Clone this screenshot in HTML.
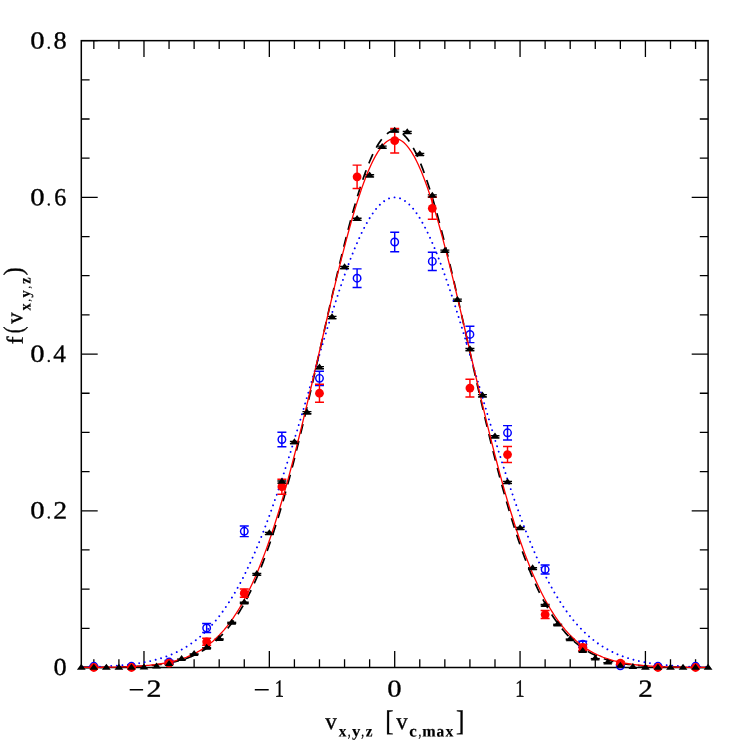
<!DOCTYPE html><html><head><meta charset="utf-8"><style>html,body{margin:0;padding:0;background:#fff}svg{display:block}text{font-family:"Liberation Sans",sans-serif;fill:#000}.se{font-family:"Liberation Serif",serif}</style></head><body><div style="will-change:transform;width:747px;height:747px">
<svg width="747" height="747" viewBox="0 0 747 747">
<rect width="747" height="747" fill="#fff"/>
<rect x="81.3" y="40.65" width="626.80" height="626.85" fill="none" stroke="#000" stroke-width="1.5"/>
<path d="M93.84 40.65v8.3M93.84 667.5v-8.3M118.91 40.65v8.3M118.91 667.5v-8.3M143.98 40.65v16.4M143.98 667.5v-16.4M169.05 40.65v8.3M169.05 667.5v-8.3M194.12 40.65v8.3M194.12 667.5v-8.3M219.20 40.65v8.3M219.20 667.5v-8.3M244.27 40.65v8.3M244.27 667.5v-8.3M269.34 40.65v16.4M269.34 667.5v-16.4M294.41 40.65v8.3M294.41 667.5v-8.3M319.48 40.65v8.3M319.48 667.5v-8.3M344.56 40.65v8.3M344.56 667.5v-8.3M369.63 40.65v8.3M369.63 667.5v-8.3M394.70 40.65v16.4M394.70 667.5v-16.4M419.77 40.65v8.3M419.77 667.5v-8.3M444.84 40.65v8.3M444.84 667.5v-8.3M469.92 40.65v8.3M469.92 667.5v-8.3M494.99 40.65v8.3M494.99 667.5v-8.3M520.06 40.65v16.4M520.06 667.5v-16.4M545.13 40.65v8.3M545.13 667.5v-8.3M570.20 40.65v8.3M570.20 667.5v-8.3M595.28 40.65v8.3M595.28 667.5v-8.3M620.35 40.65v8.3M620.35 667.5v-8.3M645.42 40.65v16.4M645.42 667.5v-16.4M670.49 40.65v8.3M670.49 667.5v-8.3M695.56 40.65v8.3M695.56 667.5v-8.3M81.3 667.50h16.4M708.1 667.50h-16.4M81.3 628.32h8.3M708.1 628.32h-8.3M81.3 589.14h8.3M708.1 589.14h-8.3M81.3 549.97h8.3M708.1 549.97h-8.3M81.3 510.79h16.4M708.1 510.79h-16.4M81.3 471.61h8.3M708.1 471.61h-8.3M81.3 432.43h8.3M708.1 432.43h-8.3M81.3 393.25h8.3M708.1 393.25h-8.3M81.3 354.07h16.4M708.1 354.07h-16.4M81.3 314.90h8.3M708.1 314.90h-8.3M81.3 275.72h8.3M708.1 275.72h-8.3M81.3 236.54h8.3M708.1 236.54h-8.3M81.3 197.36h16.4M708.1 197.36h-16.4M81.3 158.18h8.3M708.1 158.18h-8.3M81.3 119.01h8.3M708.1 119.01h-8.3M81.3 79.83h8.3M708.1 79.83h-8.3M81.3 40.65h16.4M708.1 40.65h-16.4" stroke="#000" stroke-width="1.3" fill="none"/>
<path d="M164.55 663.33h9v1.61h-9z" fill="#000"/>
<path d="M177.09 658.38h9v1.78h-9z" fill="#000"/>
<path d="M189.62 653.22h9v1.91h-9z" fill="#000"/>
<path d="M202.16 647.05h9v2.04h-9z" fill="#000"/>
<path d="M214.70 638.20h9v2.19h-9z" fill="#000"/>
<path d="M227.23 621.63h9v2.42h-9z" fill="#000"/>
<path d="M239.77 601.45h9v1.3h-9z M239.77 602.80h9v1.3h-9z" fill="#000"/>
<path d="M252.30 572.80h9v1.3h-9z M252.30 574.42h9v1.3h-9z" fill="#000"/>
<path d="M264.84 531.81h9v1.3h-9z M264.84 533.75h9v1.3h-9z" fill="#000"/>
<path d="M277.38 480.33h9v1.3h-9z M277.38 482.43h9v1.3h-9z" fill="#000"/>
<path d="M289.91 440.84h9v1.3h-9z M289.91 442.94h9v1.3h-9z" fill="#000"/>
<path d="M302.45 410.99h9v1.3h-9z M302.45 413.09h9v1.3h-9z" fill="#000"/>
<path d="M314.98 365.93h9v1.3h-9z M314.98 368.03h9v1.3h-9z" fill="#000"/>
<path d="M327.52 315.78h9v1.3h-9z M327.52 317.88h9v1.3h-9z" fill="#000"/>
<path d="M340.06 265.87h9v1.3h-9z M340.06 267.97h9v1.3h-9z" fill="#000"/>
<path d="M352.59 217.60h9v1.3h-9z M352.59 219.70h9v1.3h-9z" fill="#000"/>
<path d="M365.13 174.11h9v1.3h-9z M365.13 176.21h9v1.3h-9z" fill="#000"/>
<path d="M377.66 145.51h9v1.3h-9z M377.66 147.61h9v1.3h-9z" fill="#000"/>
<path d="M390.20 129.22h9v1.3h-9z M390.20 131.32h9v1.3h-9z" fill="#000"/>
<path d="M402.74 130.63h9v1.3h-9z M402.74 132.73h9v1.3h-9z" fill="#000"/>
<path d="M415.27 152.64h9v1.3h-9z M415.27 154.74h9v1.3h-9z" fill="#000"/>
<path d="M427.81 194.17h9v1.3h-9z M427.81 196.27h9v1.3h-9z" fill="#000"/>
<path d="M440.34 249.41h9v1.3h-9z M440.34 251.51h9v1.3h-9z" fill="#000"/>
<path d="M452.88 298.39h9v1.3h-9z M452.88 300.49h9v1.3h-9z" fill="#000"/>
<path d="M465.42 347.83h9v1.3h-9z M465.42 349.93h9v1.3h-9z" fill="#000"/>
<path d="M477.95 394.06h9v1.3h-9z M477.95 396.16h9v1.3h-9z" fill="#000"/>
<path d="M490.49 435.12h9v1.3h-9z M490.49 437.22h9v1.3h-9z" fill="#000"/>
<path d="M503.02 480.72h9v1.3h-9z M503.02 482.82h9v1.3h-9z" fill="#000"/>
<path d="M515.56 526.78h9v1.3h-9z M515.56 528.76h9v1.3h-9z" fill="#000"/>
<path d="M528.10 567.05h9v1.3h-9z M528.10 568.72h9v1.3h-9z" fill="#000"/>
<path d="M540.63 603.82h9v1.3h-9z M540.63 605.14h9v1.3h-9z" fill="#000"/>
<path d="M553.17 623.60h9v2.40h-9z" fill="#000"/>
<path d="M565.70 638.35h9v2.19h-9z" fill="#000"/>
<path d="M578.24 650.29h9v1.98h-9z" fill="#000"/>
<path d="M590.78 657.91h9v1.79h-9z" fill="#000"/>
<path d="M603.31 661.97h9v1.66h-9z" fill="#000"/>
<path d="M81.30 667.45L82.87 667.44L84.43 667.44L86.00 667.43L87.57 667.42L89.13 667.42L90.70 667.41L92.27 667.40L93.84 667.39L95.40 667.38L96.97 667.37L98.54 667.36L100.10 667.35L101.67 667.33L103.24 667.32L104.81 667.30L106.37 667.28L107.94 667.26L109.51 667.24L111.07 667.22L112.64 667.19L114.21 667.17L115.77 667.14L117.34 667.11L118.91 667.08L120.47 667.04L122.04 667.00L123.61 666.96L125.18 666.92L126.74 666.87L128.31 666.82L129.88 666.76L131.44 666.70L133.01 666.64L134.58 666.57L136.15 666.49L137.71 666.41L139.28 666.33L140.85 666.24L142.41 666.14L143.98 666.04L145.55 665.92L147.11 665.80L148.68 665.68L150.25 665.54L151.81 665.40L153.38 665.24L154.95 665.07L156.52 664.90L158.08 664.71L159.65 664.51L161.22 664.29L162.78 664.07L164.35 663.83L165.92 663.57L167.49 663.30L169.05 663.01L170.62 662.70L172.19 662.37L173.75 662.03L175.32 661.66L176.89 661.27L178.45 660.86L180.02 660.43L181.59 659.97L183.16 659.48L184.72 658.97L186.29 658.42L187.86 657.85L189.42 657.25L190.99 656.61L192.56 655.94L194.12 655.24L195.69 654.49L197.26 653.71L198.82 652.89L200.39 652.03L201.96 651.12L203.53 650.17L205.09 649.17L206.66 648.12L208.23 647.02L209.79 645.87L211.36 644.67L212.93 643.41L214.50 642.09L216.06 640.71L217.63 639.27L219.20 637.77L220.76 636.20L222.33 634.56L223.90 632.85L225.46 631.07L227.03 629.22L228.60 627.30L230.17 625.29L231.73 623.21L233.30 621.04L234.87 618.79L236.43 616.46L238.00 614.03L239.57 611.52L241.13 608.92L242.70 606.22L244.27 603.44L245.84 600.55L247.40 597.57L248.97 594.48L250.54 591.30L252.10 588.02L253.67 584.63L255.24 581.14L256.80 577.54L258.37 573.83L259.94 570.02L261.50 566.10L263.07 562.07L264.64 557.93L266.21 553.68L267.77 549.31L269.34 544.84L270.91 540.26L272.47 535.57L274.04 530.77L275.61 525.86L277.18 520.84L278.74 515.71L280.31 510.47L281.88 505.13L283.44 499.69L285.01 494.14L286.58 488.50L288.14 482.75L289.71 476.91L291.28 470.97L292.85 464.94L294.41 458.82L295.98 452.62L297.55 446.33L299.11 439.97L300.68 433.53L302.25 427.02L303.81 420.44L305.38 413.80L306.95 407.10L308.52 400.35L310.08 393.55L311.65 386.70L313.22 379.82L314.78 372.90L316.35 365.96L317.92 359.00L319.48 352.02L321.05 345.03L322.62 338.04L324.19 331.05L325.75 324.07L327.32 317.11L328.89 310.17L330.45 303.26L332.02 296.40L333.59 289.57L335.15 282.80L336.72 276.09L338.29 269.44L339.86 262.87L341.42 256.38L342.99 249.98L344.56 243.67L346.12 237.47L347.69 231.37L349.26 225.40L350.82 219.55L352.39 213.83L353.96 208.25L355.53 202.81L357.09 197.53L358.66 192.41L360.23 187.45L361.79 182.67L363.36 178.06L364.93 173.64L366.49 169.41L368.06 165.37L369.63 161.53L371.20 157.90L372.76 154.48L374.33 151.28L375.90 148.29L377.46 145.53L379.03 143.00L380.60 140.69L382.16 138.62L383.73 136.79L385.30 135.20L386.87 133.85L388.43 132.74L390.00 131.87L391.57 131.25L393.13 130.88L394.70 130.76L396.27 130.88L397.83 131.25L399.40 131.87L400.97 132.74L402.54 133.85L404.10 135.20L405.67 136.79L407.24 138.62L408.80 140.69L410.37 143.00L411.94 145.53L413.50 148.29L415.07 151.28L416.64 154.48L418.21 157.90L419.77 161.53L421.34 165.37L422.91 169.41L424.47 173.64L426.04 178.06L427.61 182.67L429.17 187.45L430.74 192.41L432.31 197.53L433.88 202.81L435.44 208.25L437.01 213.83L438.58 219.55L440.14 225.40L441.71 231.37L443.28 237.47L444.84 243.67L446.41 249.98L447.98 256.38L449.55 262.87L451.11 269.44L452.68 276.09L454.25 282.80L455.81 289.57L457.38 296.40L458.95 303.26L460.51 310.17L462.08 317.11L463.65 324.07L465.22 331.05L466.78 338.04L468.35 345.03L469.92 352.02L471.48 359.00L473.05 365.96L474.62 372.90L476.18 379.82L477.75 386.70L479.32 393.55L480.89 400.35L482.45 407.10L484.02 413.80L485.59 420.44L487.15 427.02L488.72 433.53L490.29 439.97L491.85 446.33L493.42 452.62L494.99 458.82L496.56 464.94L498.12 470.97L499.69 476.91L501.26 482.75L502.82 488.50L504.39 494.14L505.96 499.69L507.52 505.13L509.09 510.47L510.66 515.71L512.23 520.84L513.79 525.86L515.36 530.77L516.93 535.57L518.49 540.26L520.06 544.84L521.63 549.31L523.19 553.68L524.76 557.93L526.33 562.07L527.90 566.10L529.46 570.02L531.03 573.83L532.60 577.54L534.16 581.14L535.73 584.63L537.30 588.02L538.86 591.30L540.43 594.48L542.00 597.57L543.57 600.55L545.13 603.44L546.70 606.22L548.27 608.92L549.83 611.52L551.40 614.03L552.97 616.46L554.53 618.79L556.10 621.04L557.67 623.21L559.24 625.29L560.80 627.30L562.37 629.22L563.94 631.07L565.50 632.85L567.07 634.56L568.64 636.20L570.20 637.77L571.77 639.27L573.34 640.71L574.90 642.09L576.47 643.41L578.04 644.67L579.61 645.87L581.17 647.02L582.74 648.12L584.31 649.17L585.87 650.17L587.44 651.12L589.01 652.03L590.58 652.89L592.14 653.71L593.71 654.49L595.28 655.24L596.84 655.94L598.41 656.61L599.98 657.25L601.54 657.85L603.11 658.42L604.68 658.97L606.25 659.48L607.81 659.97L609.38 660.43L610.95 660.86L612.51 661.27L614.08 661.66L615.65 662.03L617.21 662.37L618.78 662.70L620.35 663.01L621.92 663.30L623.48 663.57L625.05 663.83L626.62 664.07L628.18 664.29L629.75 664.51L631.32 664.71L632.88 664.90L634.45 665.07L636.02 665.24L637.59 665.40L639.15 665.54L640.72 665.68L642.29 665.80L643.85 665.92L645.42 666.04L646.99 666.14L648.55 666.24L650.12 666.33L651.69 666.41L653.25 666.49L654.82 666.57L656.39 666.64L657.96 666.70L659.52 666.76L661.09 666.82L662.66 666.87L664.22 666.92L665.79 666.96L667.36 667.00L668.93 667.04L670.49 667.08L672.06 667.11L673.63 667.14L675.19 667.17L676.76 667.19L678.33 667.22L679.89 667.24L681.46 667.26L683.03 667.28L684.60 667.30L686.16 667.32L687.73 667.33L689.30 667.35L690.86 667.36L692.43 667.37L694.00 667.38L695.56 667.39L697.13 667.40L698.70 667.41L700.27 667.42L701.83 667.42L703.40 667.43L704.97 667.44L706.53 667.44L708.10 667.45" fill="none" stroke="#000" stroke-width="1.7" stroke-dasharray="10 7.44" stroke-dashoffset="-0.74"/>
<path d="M93.84 666.02V666.62M89.34 666.02H98.34M89.34 666.62H98.34" stroke="#00f" stroke-width="1.45" fill="none"/>
<circle cx="93.84" cy="666.32" r="3.75" fill="none" stroke="#00f" stroke-width="1.45"/>
<path d="M131.44 665.82V666.82M126.94 665.82H135.94M126.94 666.82H135.94" stroke="#00f" stroke-width="1.45" fill="none"/>
<circle cx="131.44" cy="666.32" r="3.75" fill="none" stroke="#00f" stroke-width="1.45"/>
<path d="M169.05 660.59V663.59M164.55 660.59H173.55M164.55 663.59H173.55" stroke="#00f" stroke-width="1.45" fill="none"/>
<circle cx="169.05" cy="662.09" r="3.75" fill="none" stroke="#00f" stroke-width="1.45"/>
<path d="M206.66 623.51V632.51M202.16 623.51H211.16M202.16 632.51H211.16" stroke="#00f" stroke-width="1.45" fill="none"/>
<circle cx="206.66" cy="628.01" r="3.75" fill="none" stroke="#00f" stroke-width="1.45"/>
<path d="M244.27 526.02V536.62M239.77 526.02H248.77M239.77 536.62H248.77" stroke="#00f" stroke-width="1.45" fill="none"/>
<circle cx="244.27" cy="531.32" r="3.75" fill="none" stroke="#00f" stroke-width="1.45"/>
<path d="M281.88 432.18V446.78M277.38 432.18H286.38M277.38 446.78H286.38" stroke="#00f" stroke-width="1.45" fill="none"/>
<circle cx="281.88" cy="439.48" r="3.75" fill="none" stroke="#00f" stroke-width="1.45"/>
<path d="M319.48 371.17V385.57M314.98 371.17H323.98M314.98 385.57H323.98" stroke="#00f" stroke-width="1.45" fill="none"/>
<circle cx="319.48" cy="378.37" r="3.75" fill="none" stroke="#00f" stroke-width="1.45"/>
<path d="M357.09 268.85V287.45M352.59 268.85H361.59M352.59 287.45H361.59" stroke="#00f" stroke-width="1.45" fill="none"/>
<circle cx="357.09" cy="278.15" r="3.75" fill="none" stroke="#00f" stroke-width="1.45"/>
<path d="M394.70 232.33V251.73M390.20 232.33H399.20M390.20 251.73H399.20" stroke="#00f" stroke-width="1.45" fill="none"/>
<circle cx="394.70" cy="242.03" r="3.75" fill="none" stroke="#00f" stroke-width="1.45"/>
<path d="M432.31 252.18V270.58M427.81 252.18H436.81M427.81 270.58H436.81" stroke="#00f" stroke-width="1.45" fill="none"/>
<circle cx="432.31" cy="261.38" r="3.75" fill="none" stroke="#00f" stroke-width="1.45"/>
<path d="M469.92 326.21V342.61M465.42 326.21H474.42M465.42 342.61H474.42" stroke="#00f" stroke-width="1.45" fill="none"/>
<circle cx="469.92" cy="334.41" r="3.75" fill="none" stroke="#00f" stroke-width="1.45"/>
<path d="M507.52 425.62V440.02M503.02 425.62H512.02M503.02 440.02H512.02" stroke="#00f" stroke-width="1.45" fill="none"/>
<circle cx="507.52" cy="432.82" r="3.75" fill="none" stroke="#00f" stroke-width="1.45"/>
<path d="M545.13 565.05V574.05M540.63 565.05H549.63M540.63 574.05H549.63" stroke="#00f" stroke-width="1.45" fill="none"/>
<circle cx="545.13" cy="569.55" r="3.75" fill="none" stroke="#00f" stroke-width="1.45"/>
<path d="M582.74 641.23V647.23M578.24 641.23H587.24M578.24 647.23H587.24" stroke="#00f" stroke-width="1.45" fill="none"/>
<circle cx="582.74" cy="644.23" r="3.75" fill="none" stroke="#00f" stroke-width="1.45"/>
<path d="M620.35 664.78V666.78M615.85 664.78H624.85M615.85 666.78H624.85" stroke="#00f" stroke-width="1.45" fill="none"/>
<circle cx="620.35" cy="665.78" r="3.75" fill="none" stroke="#00f" stroke-width="1.45"/>
<path d="M657.96 665.82V666.82M653.46 665.82H662.46M653.46 666.82H662.46" stroke="#00f" stroke-width="1.45" fill="none"/>
<circle cx="657.96" cy="666.32" r="3.75" fill="none" stroke="#00f" stroke-width="1.45"/>
<path d="M695.56 666.02V666.62M691.06 666.02H700.06M691.06 666.62H700.06" stroke="#00f" stroke-width="1.45" fill="none"/>
<circle cx="695.56" cy="666.32" r="3.75" fill="none" stroke="#00f" stroke-width="1.45"/>
<path d="M81.30 667.10L82.87 667.07L84.43 667.04L86.00 667.00L87.57 666.97L89.13 666.93L90.70 666.89L92.27 666.85L93.84 666.80L95.40 666.75L96.97 666.70L98.54 666.65L100.10 666.59L101.67 666.52L103.24 666.46L104.81 666.39L106.37 666.31L107.94 666.23L109.51 666.15L111.07 666.06L112.64 665.96L114.21 665.86L115.77 665.76L117.34 665.64L118.91 665.52L120.47 665.40L122.04 665.26L123.61 665.12L125.18 664.97L126.74 664.82L128.31 664.65L129.88 664.47L131.44 664.29L133.01 664.09L134.58 663.89L136.15 663.67L137.71 663.44L139.28 663.20L140.85 662.94L142.41 662.68L143.98 662.39L145.55 662.10L147.11 661.79L148.68 661.46L150.25 661.12L151.81 660.76L153.38 660.38L154.95 659.98L156.52 659.56L158.08 659.13L159.65 658.67L161.22 658.19L162.78 657.69L164.35 657.17L165.92 656.62L167.49 656.04L169.05 655.44L170.62 654.81L172.19 654.16L173.75 653.48L175.32 652.76L176.89 652.02L178.45 651.24L180.02 650.43L181.59 649.59L183.16 648.71L184.72 647.80L186.29 646.84L187.86 645.85L189.42 644.82L190.99 643.75L192.56 642.64L194.12 641.49L195.69 640.29L197.26 639.05L198.82 637.76L200.39 636.42L201.96 635.03L203.53 633.59L205.09 632.11L206.66 630.57L208.23 628.98L209.79 627.33L211.36 625.63L212.93 623.87L214.50 622.05L216.06 620.17L217.63 618.24L219.20 616.24L220.76 614.18L222.33 612.05L223.90 609.87L225.46 607.62L227.03 605.30L228.60 602.91L230.17 600.46L231.73 597.94L233.30 595.35L234.87 592.68L236.43 589.95L238.00 587.15L239.57 584.28L241.13 581.33L242.70 578.31L244.27 575.21L245.84 572.05L247.40 568.81L248.97 565.49L250.54 562.10L252.10 558.64L253.67 555.10L255.24 551.49L256.80 547.81L258.37 544.05L259.94 540.22L261.50 536.31L263.07 532.34L264.64 528.29L266.21 524.17L267.77 519.98L269.34 515.73L270.91 511.40L272.47 507.01L274.04 502.56L275.61 498.04L277.18 493.46L278.74 488.82L280.31 484.12L281.88 479.36L283.44 474.54L285.01 469.68L286.58 464.76L288.14 459.79L289.71 454.78L291.28 449.72L292.85 444.62L294.41 439.48L295.98 434.31L297.55 429.10L299.11 423.87L300.68 418.60L302.25 413.32L303.81 408.01L305.38 402.68L306.95 397.34L308.52 391.99L310.08 386.63L311.65 381.28L313.22 375.92L314.78 370.56L316.35 365.22L317.92 359.88L319.48 354.57L321.05 349.27L322.62 344.00L324.19 338.76L325.75 333.55L327.32 328.37L328.89 323.24L330.45 318.16L332.02 313.12L333.59 308.14L335.15 303.22L336.72 298.36L338.29 293.57L339.86 288.85L341.42 284.21L342.99 279.64L344.56 275.16L346.12 270.77L347.69 266.47L349.26 262.27L350.82 258.17L352.39 254.17L353.96 250.29L355.53 246.51L357.09 242.85L358.66 239.31L360.23 235.89L361.79 232.60L363.36 229.44L364.93 226.41L366.49 223.52L368.06 220.76L369.63 218.15L371.20 215.68L372.76 213.36L374.33 211.19L375.90 209.17L377.46 207.31L379.03 205.60L380.60 204.04L382.16 202.65L383.73 201.41L385.30 200.34L386.87 199.43L388.43 198.69L390.00 198.11L391.57 197.69L393.13 197.45L394.70 197.36L396.27 197.45L397.83 197.69L399.40 198.11L400.97 198.69L402.54 199.43L404.10 200.34L405.67 201.41L407.24 202.65L408.80 204.04L410.37 205.60L411.94 207.31L413.50 209.17L415.07 211.19L416.64 213.36L418.21 215.68L419.77 218.15L421.34 220.76L422.91 223.52L424.47 226.41L426.04 229.44L427.61 232.60L429.17 235.89L430.74 239.31L432.31 242.85L433.88 246.51L435.44 250.29L437.01 254.17L438.58 258.17L440.14 262.27L441.71 266.47L443.28 270.77L444.84 275.16L446.41 279.64L447.98 284.21L449.55 288.85L451.11 293.57L452.68 298.36L454.25 303.22L455.81 308.14L457.38 313.12L458.95 318.16L460.51 323.24L462.08 328.37L463.65 333.55L465.22 338.76L466.78 344.00L468.35 349.27L469.92 354.57L471.48 359.88L473.05 365.22L474.62 370.56L476.18 375.92L477.75 381.28L479.32 386.63L480.89 391.99L482.45 397.34L484.02 402.68L485.59 408.01L487.15 413.32L488.72 418.60L490.29 423.87L491.85 429.10L493.42 434.31L494.99 439.48L496.56 444.62L498.12 449.72L499.69 454.78L501.26 459.79L502.82 464.76L504.39 469.68L505.96 474.54L507.52 479.36L509.09 484.12L510.66 488.82L512.23 493.46L513.79 498.04L515.36 502.56L516.93 507.01L518.49 511.40L520.06 515.73L521.63 519.98L523.19 524.17L524.76 528.29L526.33 532.34L527.90 536.31L529.46 540.22L531.03 544.05L532.60 547.81L534.16 551.49L535.73 555.10L537.30 558.64L538.86 562.10L540.43 565.49L542.00 568.81L543.57 572.05L545.13 575.21L546.70 578.31L548.27 581.33L549.83 584.28L551.40 587.15L552.97 589.95L554.53 592.68L556.10 595.35L557.67 597.94L559.24 600.46L560.80 602.91L562.37 605.30L563.94 607.62L565.50 609.87L567.07 612.05L568.64 614.18L570.20 616.24L571.77 618.24L573.34 620.17L574.90 622.05L576.47 623.87L578.04 625.63L579.61 627.33L581.17 628.98L582.74 630.57L584.31 632.11L585.87 633.59L587.44 635.03L589.01 636.42L590.58 637.76L592.14 639.05L593.71 640.29L595.28 641.49L596.84 642.64L598.41 643.75L599.98 644.82L601.54 645.85L603.11 646.84L604.68 647.80L606.25 648.71L607.81 649.59L609.38 650.43L610.95 651.24L612.51 652.02L614.08 652.76L615.65 653.48L617.21 654.16L618.78 654.81L620.35 655.44L621.92 656.04L623.48 656.62L625.05 657.17L626.62 657.69L628.18 658.19L629.75 658.67L631.32 659.13L632.88 659.56L634.45 659.98L636.02 660.38L637.59 660.76L639.15 661.12L640.72 661.46L642.29 661.79L643.85 662.10L645.42 662.39L646.99 662.68L648.55 662.94L650.12 663.20L651.69 663.44L653.25 663.67L654.82 663.89L656.39 664.09L657.96 664.29L659.52 664.47L661.09 664.65L662.66 664.82L664.22 664.97L665.79 665.12L667.36 665.26L668.93 665.40L670.49 665.52L672.06 665.64L673.63 665.76L675.19 665.86L676.76 665.96L678.33 666.06L679.89 666.15L681.46 666.23L683.03 666.31L684.60 666.39L686.16 666.46L687.73 666.52L689.30 666.59L690.86 666.65L692.43 666.70L694.00 666.75L695.56 666.80L697.13 666.85L698.70 666.89L700.27 666.93L701.83 666.97L703.40 667.00L704.97 667.04L706.53 667.07L708.10 667.10" fill="none" stroke="#00f" stroke-width="1.9" stroke-dasharray="0.01 5.61" stroke-dashoffset="-1.84" stroke-linecap="round"/>
<path d="M93.84 667.20V667.80M89.34 667.20H98.34M89.34 667.80H98.34" stroke="#f00" stroke-width="1.45" fill="none"/>
<circle cx="93.84" cy="667.50" r="4.40" fill="#f00"/>
<path d="M131.44 667.00V668.00M126.94 667.00H135.94M126.94 668.00H135.94" stroke="#f00" stroke-width="1.45" fill="none"/>
<circle cx="131.44" cy="667.50" r="4.40" fill="#f00"/>
<path d="M169.05 661.53V664.53M164.55 661.53H173.55M164.55 664.53H173.55" stroke="#f00" stroke-width="1.45" fill="none"/>
<circle cx="169.05" cy="663.03" r="4.40" fill="#f00"/>
<path d="M206.66 638.30V645.30M202.16 638.30H211.16M202.16 645.30H211.16" stroke="#f00" stroke-width="1.45" fill="none"/>
<circle cx="206.66" cy="641.80" r="4.40" fill="#f00"/>
<path d="M244.27 588.94V597.34M239.77 588.94H248.77M239.77 597.34H248.77" stroke="#f00" stroke-width="1.45" fill="none"/>
<circle cx="244.27" cy="593.14" r="4.40" fill="#f00"/>
<path d="M281.88 479.23V494.23M277.38 479.23H286.38M277.38 494.23H286.38" stroke="#f00" stroke-width="1.45" fill="none"/>
<circle cx="281.88" cy="486.73" r="4.40" fill="#f00"/>
<path d="M319.48 384.25V402.25M314.98 384.25H323.98M314.98 402.25H323.98" stroke="#f00" stroke-width="1.45" fill="none"/>
<circle cx="319.48" cy="393.25" r="4.40" fill="#f00"/>
<path d="M357.09 165.13V188.53M352.59 165.13H361.59M352.59 188.53H361.59" stroke="#f00" stroke-width="1.45" fill="none"/>
<circle cx="357.09" cy="176.83" r="4.40" fill="#f00"/>
<path d="M394.70 128.41V153.01M390.20 128.41H399.20M390.20 153.01H399.20" stroke="#f00" stroke-width="1.45" fill="none"/>
<circle cx="394.70" cy="140.71" r="4.40" fill="#f00"/>
<path d="M432.31 197.33V219.33M427.81 197.33H436.81M427.81 219.33H436.81" stroke="#f00" stroke-width="1.45" fill="none"/>
<circle cx="432.31" cy="208.33" r="4.40" fill="#f00"/>
<path d="M469.92 379.18V396.98M465.42 379.18H474.42M465.42 396.98H474.42" stroke="#f00" stroke-width="1.45" fill="none"/>
<circle cx="469.92" cy="388.08" r="4.40" fill="#f00"/>
<path d="M507.52 446.53V462.53M503.02 446.53H512.02M503.02 462.53H512.02" stroke="#f00" stroke-width="1.45" fill="none"/>
<circle cx="507.52" cy="454.53" r="4.40" fill="#f00"/>
<path d="M545.13 610.53V618.53M540.63 610.53H549.63M540.63 618.53H549.63" stroke="#f00" stroke-width="1.45" fill="none"/>
<circle cx="545.13" cy="614.53" r="4.40" fill="#f00"/>
<path d="M582.74 644.52V650.52M578.24 644.52H587.24M578.24 650.52H587.24" stroke="#f00" stroke-width="1.45" fill="none"/>
<circle cx="582.74" cy="647.52" r="4.40" fill="#f00"/>
<path d="M620.35 661.53V664.53M615.85 661.53H624.85M615.85 664.53H624.85" stroke="#f00" stroke-width="1.45" fill="none"/>
<circle cx="620.35" cy="663.03" r="4.40" fill="#f00"/>
<path d="M657.96 667.00V668.00M653.46 667.00H662.46M653.46 668.00H662.46" stroke="#f00" stroke-width="1.45" fill="none"/>
<circle cx="657.96" cy="667.50" r="4.40" fill="#f00"/>
<path d="M695.56 667.20V667.80M691.06 667.20H700.06M691.06 667.80H700.06" stroke="#f00" stroke-width="1.45" fill="none"/>
<circle cx="695.56" cy="667.50" r="4.40" fill="#f00"/>
<path d="M81.30 667.43L82.87 667.42L84.43 667.42L86.00 667.41L87.57 667.40L89.13 667.39L90.70 667.38L92.27 667.37L93.84 667.36L95.40 667.34L96.97 667.33L98.54 667.32L100.10 667.30L101.67 667.28L103.24 667.26L104.81 667.24L106.37 667.22L107.94 667.20L109.51 667.17L111.07 667.14L112.64 667.11L114.21 667.08L115.77 667.05L117.34 667.01L118.91 666.97L120.47 666.93L122.04 666.88L123.61 666.83L125.18 666.78L126.74 666.72L128.31 666.66L129.88 666.59L131.44 666.52L133.01 666.44L134.58 666.36L136.15 666.28L137.71 666.18L139.28 666.08L140.85 665.98L142.41 665.86L143.98 665.74L145.55 665.61L147.11 665.47L148.68 665.33L150.25 665.17L151.81 665.00L153.38 664.82L154.95 664.64L156.52 664.43L158.08 664.22L159.65 663.99L161.22 663.75L162.78 663.49L164.35 663.22L165.92 662.93L167.49 662.63L169.05 662.30L170.62 661.96L172.19 661.59L173.75 661.21L175.32 660.80L176.89 660.37L178.45 659.92L180.02 659.44L181.59 658.93L183.16 658.40L184.72 657.84L186.29 657.25L187.86 656.62L189.42 655.97L190.99 655.28L192.56 654.55L194.12 653.78L195.69 652.98L197.26 652.14L198.82 651.26L200.39 650.33L201.96 649.36L203.53 648.34L205.09 647.27L206.66 646.16L208.23 644.99L209.79 643.77L211.36 642.49L212.93 641.16L214.50 639.76L216.06 638.31L217.63 636.80L219.20 635.22L220.76 633.57L222.33 631.86L223.90 630.08L225.46 628.22L227.03 626.29L228.60 624.29L230.17 622.21L231.73 620.05L233.30 617.81L234.87 615.48L236.43 613.08L238.00 610.58L239.57 608.00L241.13 605.33L242.70 602.57L244.27 599.71L245.84 596.76L247.40 593.72L248.97 590.58L250.54 587.34L252.10 584.00L253.67 580.56L255.24 577.03L256.80 573.38L258.37 569.64L259.94 565.79L261.50 561.84L263.07 557.78L264.64 553.62L266.21 549.36L267.77 544.98L269.34 540.51L270.91 535.93L272.47 531.24L274.04 526.45L275.61 521.56L277.18 516.56L278.74 511.46L280.31 506.26L281.88 500.97L283.44 495.57L285.01 490.08L286.58 484.50L288.14 478.82L289.71 473.06L291.28 467.21L292.85 461.27L294.41 455.26L295.98 449.16L297.55 442.99L299.11 436.75L300.68 430.44L302.25 424.07L303.81 417.64L305.38 411.15L306.95 404.61L308.52 398.02L310.08 391.40L311.65 384.73L313.22 378.03L314.78 371.31L316.35 364.57L317.92 357.81L319.48 351.04L321.05 344.26L322.62 337.49L324.19 330.73L325.75 323.98L327.32 317.26L328.89 310.56L330.45 303.89L332.02 297.26L333.59 290.69L335.15 284.16L336.72 277.70L338.29 271.31L339.86 264.98L341.42 258.75L342.99 252.59L344.56 246.54L346.12 240.59L347.69 234.74L349.26 229.01L350.82 223.40L352.39 217.93L353.96 212.58L355.53 207.38L357.09 202.33L358.66 197.43L360.23 192.69L361.79 188.12L363.36 183.71L364.93 179.49L366.49 175.45L368.06 171.59L369.63 167.93L371.20 164.47L372.76 161.21L374.33 158.15L375.90 155.30L377.46 152.67L379.03 150.26L380.60 148.06L382.16 146.09L383.73 144.34L385.30 142.82L386.87 141.53L388.43 140.48L390.00 139.66L391.57 139.07L393.13 138.71L394.70 138.60L396.27 138.71L397.83 139.07L399.40 139.66L400.97 140.48L402.54 141.53L404.10 142.82L405.67 144.34L407.24 146.09L408.80 148.06L410.37 150.26L411.94 152.67L413.50 155.30L415.07 158.15L416.64 161.21L418.21 164.47L419.77 167.93L421.34 171.59L422.91 175.45L424.47 179.49L426.04 183.71L427.61 188.12L429.17 192.69L430.74 197.43L432.31 202.33L433.88 207.38L435.44 212.58L437.01 217.93L438.58 223.40L440.14 229.01L441.71 234.74L443.28 240.59L444.84 246.54L446.41 252.59L447.98 258.75L449.55 264.98L451.11 271.31L452.68 277.70L454.25 284.16L455.81 290.69L457.38 297.26L458.95 303.89L460.51 310.56L462.08 317.26L463.65 323.98L465.22 330.73L466.78 337.49L468.35 344.26L469.92 351.04L471.48 357.81L473.05 364.57L474.62 371.31L476.18 378.03L477.75 384.73L479.32 391.40L480.89 398.02L482.45 404.61L484.02 411.15L485.59 417.64L487.15 424.07L488.72 430.44L490.29 436.75L491.85 442.99L493.42 449.16L494.99 455.26L496.56 461.27L498.12 467.21L499.69 473.06L501.26 478.82L502.82 484.50L504.39 490.08L505.96 495.57L507.52 500.97L509.09 506.26L510.66 511.46L512.23 516.56L513.79 521.56L515.36 526.45L516.93 531.24L518.49 535.93L520.06 540.51L521.63 544.98L523.19 549.36L524.76 553.62L526.33 557.78L527.90 561.84L529.46 565.79L531.03 569.64L532.60 573.38L534.16 577.03L535.73 580.56L537.30 584.00L538.86 587.34L540.43 590.58L542.00 593.72L543.57 596.76L545.13 599.71L546.70 602.57L548.27 605.33L549.83 608.00L551.40 610.58L552.97 613.08L554.53 615.48L556.10 617.81L557.67 620.05L559.24 622.21L560.80 624.29L562.37 626.29L563.94 628.22L565.50 630.08L567.07 631.86L568.64 633.57L570.20 635.22L571.77 636.80L573.34 638.31L574.90 639.76L576.47 641.16L578.04 642.49L579.61 643.77L581.17 644.99L582.74 646.16L584.31 647.27L585.87 648.34L587.44 649.36L589.01 650.33L590.58 651.26L592.14 652.14L593.71 652.98L595.28 653.78L596.84 654.55L598.41 655.28L599.98 655.97L601.54 656.62L603.11 657.25L604.68 657.84L606.25 658.40L607.81 658.93L609.38 659.44L610.95 659.92L612.51 660.37L614.08 660.80L615.65 661.21L617.21 661.59L618.78 661.96L620.35 662.30L621.92 662.63L623.48 662.93L625.05 663.22L626.62 663.49L628.18 663.75L629.75 663.99L631.32 664.22L632.88 664.43L634.45 664.64L636.02 664.82L637.59 665.00L639.15 665.17L640.72 665.33L642.29 665.47L643.85 665.61L645.42 665.74L646.99 665.86L648.55 665.98L650.12 666.08L651.69 666.18L653.25 666.28L654.82 666.36L656.39 666.44L657.96 666.52L659.52 666.59L661.09 666.66L662.66 666.72L664.22 666.78L665.79 666.83L667.36 666.88L668.93 666.93L670.49 666.97L672.06 667.01L673.63 667.05L675.19 667.08L676.76 667.11L678.33 667.14L679.89 667.17L681.46 667.20L683.03 667.22L684.60 667.24L686.16 667.26L687.73 667.28L689.30 667.30L690.86 667.32L692.43 667.33L694.00 667.34L695.56 667.36L697.13 667.37L698.70 667.38L700.27 667.39L701.83 667.40L703.40 667.41L704.97 667.42L706.53 667.42L708.10 667.43" fill="none" stroke="#f00" stroke-width="1.3"/>
<path d="M81.30 663.80L85.70 669.80H76.90zM93.84 663.80L98.24 669.80H89.44zM106.37 663.80L110.77 669.80H101.97zM118.91 663.80L123.31 669.80H114.51zM131.44 663.80L135.84 669.80H127.04zM143.98 663.41L148.38 669.41H139.58zM156.52 662.62L160.92 668.62H152.12zM169.05 659.93L173.45 665.93H164.65zM181.59 655.07L185.99 661.07H177.19zM194.12 649.98L198.52 655.98H189.72zM206.66 643.87L211.06 649.87H202.26zM219.20 635.09L223.60 641.09H214.80zM231.73 618.64L236.13 624.64H227.33zM244.27 598.58L248.67 604.58H239.87zM256.80 570.06L261.20 576.06H252.40zM269.34 529.23L273.74 535.23H264.94zM281.88 477.83L286.28 483.83H277.48zM294.41 438.34L298.81 444.34H290.01zM306.95 408.49L311.35 414.49H302.55zM319.48 363.43L323.88 369.43H315.08zM332.02 313.28L336.42 319.28H327.62zM344.56 263.37L348.96 269.37H340.16zM357.09 215.10L361.49 221.10H352.69zM369.63 171.61L374.03 177.61H365.23zM382.16 143.01L386.56 149.01H377.76zM394.70 126.72L399.10 132.72H390.30zM407.24 128.13L411.64 134.13H402.84zM419.77 150.14L424.17 156.14H415.37zM432.31 191.67L436.71 197.67H427.91zM444.84 246.91L449.24 252.91H440.44zM457.38 295.89L461.78 301.89H452.98zM469.92 345.33L474.32 351.33H465.52zM482.45 391.56L486.85 397.56H478.05zM494.99 432.62L499.39 438.62H490.59zM507.52 478.22L511.92 484.22H503.12zM520.06 524.22L524.46 530.22H515.66zM532.60 564.34L537.00 570.34H528.20zM545.13 600.93L549.53 606.93H540.73zM557.67 620.60L562.07 626.60H553.27zM570.20 635.25L574.60 641.25H565.80zM582.74 647.08L587.14 653.08H578.34zM595.28 654.60L599.68 660.60H590.88zM607.81 658.60L612.21 664.60H603.41zM620.35 661.76L624.75 667.76H615.95zM632.88 663.09L637.28 669.09H628.48zM645.42 663.80L649.82 669.80H641.02zM657.96 663.80L662.36 669.80H653.56zM670.49 663.80L674.89 669.80H666.09zM683.03 663.80L687.43 669.80H678.63zM695.56 663.80L699.96 669.80H691.16zM708.10 663.80L712.50 669.80H703.70z" fill="#000"/>
<text class="se" transform="matrix(0.2871 0.0002 -0.0002 0.2444 30.37 518.33)" font-size="100" stroke="#000" stroke-width="0.35" vector-effect="non-scaling-stroke">0</text>
<text class="se" transform="matrix(0.1667 0.0002 -0.0002 0.1787 46.77 518.31)" font-size="100" stroke="#000" stroke-width="0.35" vector-effect="non-scaling-stroke">.</text>
<text class="se" transform="matrix(0.2775 0.0002 -0.0002 0.2491 53.30 518.58)" font-size="100" stroke="#000" stroke-width="0.35" vector-effect="non-scaling-stroke">2</text>
<text class="se" transform="matrix(0.2871 0.0002 -0.0002 0.2444 30.37 361.76)" font-size="100" stroke="#000" stroke-width="0.35" vector-effect="non-scaling-stroke">0</text>
<text class="se" transform="matrix(0.1667 0.0002 -0.0002 0.1787 46.77 361.73)" font-size="100" stroke="#000" stroke-width="0.35" vector-effect="non-scaling-stroke">.</text>
<text class="se" transform="matrix(0.2538 0.0002 -0.0002 0.2510 53.34 362.00)" font-size="100" stroke="#000" stroke-width="0.35" vector-effect="non-scaling-stroke">4</text>
<text class="se" transform="matrix(0.2871 0.0002 -0.0002 0.2444 30.37 205.18)" font-size="100" stroke="#000" stroke-width="0.35" vector-effect="non-scaling-stroke">0</text>
<text class="se" transform="matrix(0.1667 0.0002 -0.0002 0.1787 46.77 205.16)" font-size="100" stroke="#000" stroke-width="0.35" vector-effect="non-scaling-stroke">.</text>
<text class="se" transform="matrix(0.2409 0.0002 -0.0002 0.2454 54.13 205.18)" font-size="100" stroke="#000" stroke-width="0.35" vector-effect="non-scaling-stroke">6</text>
<text class="se" transform="matrix(0.2871 0.0002 -0.0002 0.2444 30.37 48.61)" font-size="100" stroke="#000" stroke-width="0.35" vector-effect="non-scaling-stroke">0</text>
<text class="se" transform="matrix(0.1667 0.0002 -0.0002 0.1787 46.77 48.58)" font-size="100" stroke="#000" stroke-width="0.35" vector-effect="non-scaling-stroke">.</text>
<text class="se" transform="matrix(0.2635 0.0002 -0.0002 0.2444 53.56 48.61)" font-size="100" stroke="#000" stroke-width="0.35" vector-effect="non-scaling-stroke">8</text>
<text class="se" transform="matrix(0.2635 0.0002 -0.0002 0.2444 53.56 674.91)" font-size="100" stroke="#000" stroke-width="0.35" vector-effect="non-scaling-stroke">0</text>
<path d="M129.7 689.7H143.1M254.8 689.7H268.7" stroke="#000" stroke-width="1.5"/>
<text class="se" transform="matrix(0.3000 0.0002 -0.0002 0.2460 146.40 696.65)" font-size="100" stroke="#000" stroke-width="0.35" vector-effect="non-scaling-stroke">2</text>
<text class="se" transform="matrix(0.1844 0.0002 -0.0002 0.2470 274.64 696.65)" font-size="100" stroke="#000" stroke-width="0.35" vector-effect="non-scaling-stroke">1</text>
<text class="se" transform="matrix(0.2871 0.0002 -0.0002 0.2415 387.37 696.41)" font-size="100" stroke="#000" stroke-width="0.35" vector-effect="non-scaling-stroke">0</text>
<text class="se" transform="matrix(0.1844 0.0002 -0.0002 0.2470 515.34 696.65)" font-size="100" stroke="#000" stroke-width="0.35" vector-effect="non-scaling-stroke">1</text>
<text class="se" transform="matrix(0.2900 0.0002 -0.0002 0.2460 638.14 696.65)" font-size="100" stroke="#000" stroke-width="0.35" vector-effect="non-scaling-stroke">2</text>
<text class="se" transform="matrix(0.2320 0.0002 -0.0002 0.2319 325.25 728.92)" font-size="100" stroke="#000" stroke-width="0.35" vector-effect="non-scaling-stroke">v</text>
<text class="se" transform="matrix(0.1531 0.0002 -0.0002 0.1630 338.77 736.45)" font-size="100" font-weight="bold" stroke="#000" stroke-width="0.15" vector-effect="non-scaling-stroke">x</text>
<text class="se" transform="matrix(0.0900 0.0002 -0.0002 0.1388 347.94 736.40)" font-size="100" font-weight="bold" stroke="#000" stroke-width="0.15" vector-effect="non-scaling-stroke">,</text>
<text class="se" transform="matrix(0.1667 0.0002 -0.0002 0.1585 351.88 736.24)" font-size="100" font-weight="bold" stroke="#000" stroke-width="0.15" vector-effect="non-scaling-stroke">y</text>
<text class="se" transform="matrix(0.0900 0.0002 -0.0002 0.1388 361.54 736.40)" font-size="100" font-weight="bold" stroke="#000" stroke-width="0.15" vector-effect="non-scaling-stroke">,</text>
<text class="se" transform="matrix(0.1516 0.0002 -0.0002 0.1630 365.65 736.45)" font-size="100" font-weight="bold" stroke="#000" stroke-width="0.15" vector-effect="non-scaling-stroke">z</text>
<text class="se" transform="matrix(0.2472 0.0002 -0.0002 0.2880 385.20 730.56)" font-size="100" stroke="#000" stroke-width="0.35" vector-effect="non-scaling-stroke">[</text>
<text class="se" transform="matrix(0.2280 0.0002 -0.0002 0.2319 396.15 728.92)" font-size="100" stroke="#000" stroke-width="0.35" vector-effect="non-scaling-stroke">v</text>
<text class="se" transform="matrix(0.1688 0.0002 -0.0002 0.1625 409.16 736.49)" font-size="100" font-weight="bold" stroke="#000" stroke-width="0.15" vector-effect="non-scaling-stroke">c</text>
<text class="se" transform="matrix(0.0900 0.0002 -0.0002 0.1388 418.64 736.40)" font-size="100" font-weight="bold" stroke="#000" stroke-width="0.15" vector-effect="non-scaling-stroke">,</text>
<text class="se" transform="matrix(0.1613 0.0002 -0.0002 0.1617 422.21 736.45)" font-size="100" font-weight="bold" stroke="#000" stroke-width="0.15" vector-effect="non-scaling-stroke">m</text>
<text class="se" transform="matrix(0.1547 0.0002 -0.0002 0.1625 436.55 736.49)" font-size="100" font-weight="bold" stroke="#000" stroke-width="0.15" vector-effect="non-scaling-stroke">a</text>
<text class="se" transform="matrix(0.1571 0.0002 -0.0002 0.1630 445.47 736.45)" font-size="100" font-weight="bold" stroke="#000" stroke-width="0.15" vector-effect="non-scaling-stroke">x</text>
<text class="se" transform="matrix(0.2533 0.0002 -0.0002 0.2880 456.06 730.56)" font-size="100" stroke="#000" stroke-width="0.35" vector-effect="non-scaling-stroke">]</text>
<g transform="translate(22.8,344.0) rotate(-90)">
<text class="se" transform="matrix(0.2314 0.0002 -0.0002 0.2312 -0.24 -0.05)" font-size="100" stroke="#000" stroke-width="0.35" vector-effect="non-scaling-stroke">f</text>
<text class="se" transform="matrix(0.2000 0.0002 -0.0002 0.2685 10.75 -0.76)" font-size="100" stroke="#000" stroke-width="0.35" vector-effect="non-scaling-stroke">(</text>
<text class="se" transform="matrix(0.2240 0.0002 -0.0002 0.2340 20.35 -0.48)" font-size="100" stroke="#000" stroke-width="0.35" vector-effect="non-scaling-stroke">v</text>
<text class="se" transform="matrix(0.1429 0.0002 -0.0002 0.1630 33.58 7.75)" font-size="100" font-weight="bold" stroke="#000" stroke-width="0.15" vector-effect="non-scaling-stroke">x</text>
<text class="se" transform="matrix(0.0750 0.0002 -0.0002 0.0992 42.76 7.41)" font-size="100" font-weight="bold" stroke="#000" stroke-width="0.15" vector-effect="non-scaling-stroke">,</text>
<text class="se" transform="matrix(0.1438 0.0002 -0.0002 0.1511 46.51 7.20)" font-size="100" font-weight="bold" stroke="#000" stroke-width="0.15" vector-effect="non-scaling-stroke">y</text>
<text class="se" transform="matrix(0.0850 0.0002 -0.0002 0.0992 55.74 7.41)" font-size="100" font-weight="bold" stroke="#000" stroke-width="0.15" vector-effect="non-scaling-stroke">,</text>
<text class="se" transform="matrix(0.1416 0.0002 -0.0002 0.1630 60.17 7.75)" font-size="100" font-weight="bold" stroke="#000" stroke-width="0.15" vector-effect="non-scaling-stroke">z</text>
<text class="se" transform="matrix(0.2369 0.0002 -0.0002 0.2685 68.68 -0.76)" font-size="100" stroke="#000" stroke-width="0.35" vector-effect="non-scaling-stroke">)</text>
</g>
</svg></div></body></html>
